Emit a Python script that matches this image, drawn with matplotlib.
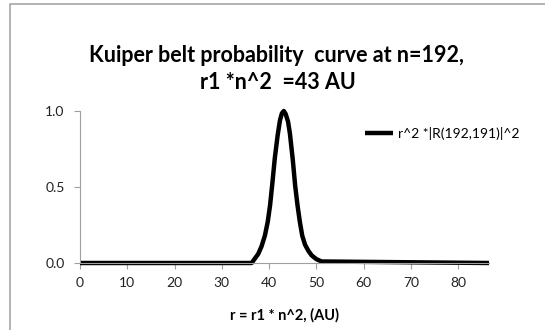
import matplotlib
matplotlib.use('Agg')
import matplotlib.pyplot as plt
from matplotlib.lines import Line2D

# values
r_au = [0, 36.3, 37.0, 37.7, 38.4, 39.1, 39.7, 40.2, 40.7, 41.2, 41.8, 42.3, 42.7,
        43.1, 43.5, 44.0, 44.4, 45.0, 45.5, 46.0, 46.5, 47.0, 47.6, 48.3, 49.0,
        50.0, 51.1, 86.5]
prob = [0, 0.0, 0.03, 0.06, 0.11, 0.18, 0.27, 0.38, 0.53, 0.69, 0.84, 0.94, 0.985,
        1.0, 0.98, 0.93, 0.85, 0.68, 0.51, 0.38, 0.27, 0.18, 0.12, 0.08, 0.05,
        0.025, 0.01, 0]
x_ticks = [0, 10, 20, 30, 40, 50, 60, 70, 80]
y_ticks = [0.0, 0.5, 1.0]

plt.rcParams['font.family'] = ['Lato', 'DejaVu Sans']

W, H = 545, 330
fig = plt.figure(figsize=(W / 100, H / 100), dpi=100)
ax = fig.add_axes([80 / W, 1 - 263 / H, (489 - 80) / W, (263 - 111) / H])

ax.plot(r_au, prob, color='black', lw=3.2, solid_joinstyle='round',
        solid_capstyle='butt', label='r^2 *|R(192,191)|^2', clip_on=False)

ax.set_xlim(0, 86.5)
ax.set_ylim(0, 1)
ax.set_xticks(x_ticks)
ax.set_yticks(y_ticks)
ax.set_yticklabels(['%.1f' % v for v in y_ticks])

for s in ['top', 'right']:
    ax.spines[s].set_visible(False)
for s in ['left', 'bottom']:
    ax.spines[s].set_color('#a0a0a0')
    ax.spines[s].set_linewidth(0.8)
ax.tick_params(colors='#a0a0a0', labelcolor='#222222', labelsize=10, length=4, width=0.8)
ax.tick_params(axis='x', pad=6)
ax.tick_params(axis='y', pad=7)

ax.set_xlabel('r = r1 * n^2, (AU)', fontsize=10.5, fontweight='bold', labelpad=14)

fig.text(276 / W, 1 - 56 / H, 'Kuiper belt probability  curve at n=192,',
         ha='center', va='center', fontsize=15.5, fontweight='bold')
fig.text(278 / W, 1 - 83 / H, 'r1 *n^2  =43 AU',
         ha='center', va='center', fontsize=15.5, fontweight='bold')

ax.legend(loc='center left', bbox_to_anchor=(365 / W, 1 - 133 / H),
          bbox_transform=fig.transFigure, frameon=False, fontsize=10,
          handlelength=2.0, handletextpad=0.35, borderpad=0, borderaxespad=0)

# chart area frame (only left and top visible)
fig.add_artist(Line2D([10 / W, 10 / W, 1], [0, 1 - 4 / H, 1 - 4 / H],
                      transform=fig.transFigure, color='#a6a6a6', lw=1.2))

fig.savefig('out.png', dpi=100)
